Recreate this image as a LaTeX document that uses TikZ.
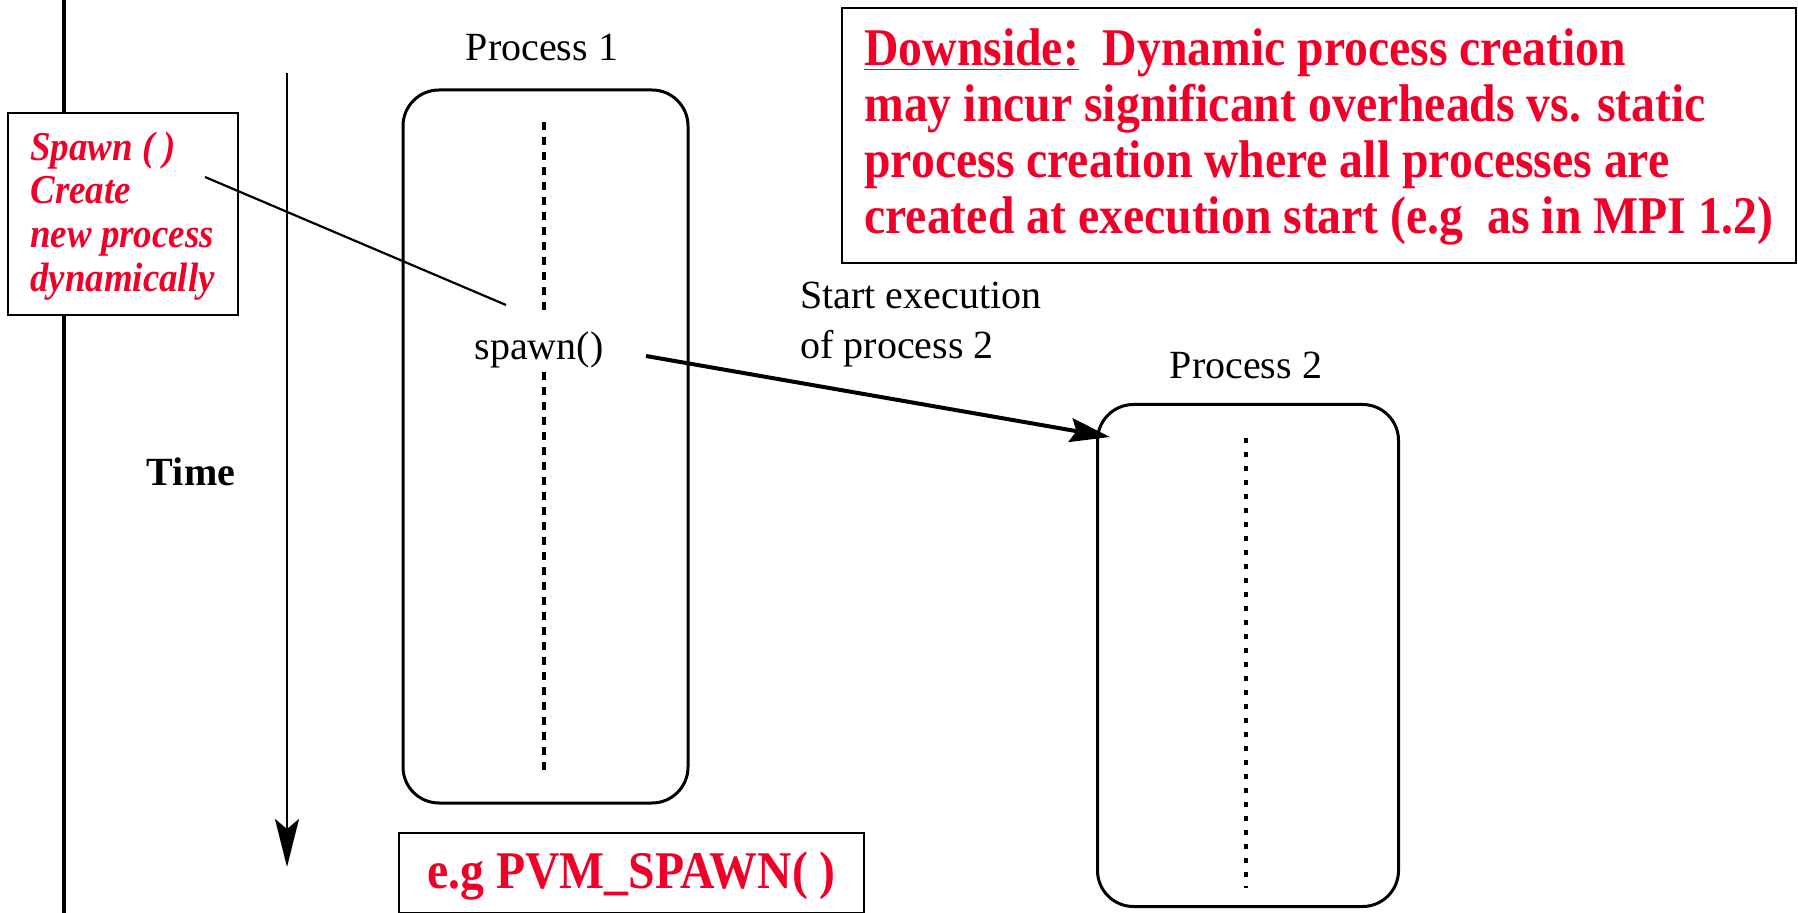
\documentclass[tikz,border=0pt]{standalone}
\usepackage{fontspec}
\setmainfont{Liberation Serif}
\newfontfamily\condser[FakeStretch=0.9]{Liberation Serif}
\usetikzlibrary{arrows.meta}
\definecolor{hred}{RGB}{240,0,40}
\begin{document}
\begin{tikzpicture}[x=0.5pt,y=-0.5pt,
  procbox/.style={draw, line width=1.5pt, rounded corners=18pt, inner sep=0pt},
  lbl/.style={font=\fontsize{20}{25}\selectfont, inner sep=0pt},
  redframe/.style={draw, line width=1.2pt, fill=white, inner sep=0pt},
  redtxt/.style={text=hred, inner sep=0pt, align=left},
  dotsA/.style={line width=1.8pt, dash pattern=on 4pt off 3.5pt},
  dotsB/.style={line width=2pt, dash pattern=on 2.5pt off 4.5pt},
]
\useasboundingbox (0,0) rectangle (1798,913);
\clip (0,0) rectangle (1798,913);

% left thick border line
\coordinate (ltop) at (64,0);
\coordinate (lbot) at (64,913);
\draw[line width=2.4pt] (ltop) -- (lbot);

% time arrow
\coordinate (ttop) at (287,73);
\coordinate (tbot) at (287,867);
\draw[line width=1.3pt, -{Stealth[length=24pt,width=12pt,inset=5pt]}] (ttop) -- (tbot);
\node[lbl, font=\bfseries\fontsize{20}{25}\selectfont] (time) at (191,472) {Time};

% Process 1
\node[lbl] (p1t) at (542,48) {Process 1};
\node[procbox, minimum width=142.5pt, minimum height=356.5pt] (p1) at (545.5,446.5) {};
\coordinate (d1a) at (544,122);
\coordinate (d1b) at (544,310);
\coordinate (d1c) at (544,372);
\coordinate (d1d) at (544,773);
\draw[dotsA] (d1a) -- (d1b);
\draw[dotsA] (d1c) -- (d1d);
\node[lbl] (spw) at (539,350) {spawn()};

% Process 2
\node[lbl] (p2t) at (1246,365) {Process 2};
\node[procbox, minimum width=150.5pt, minimum height=251pt] (p2) at (1248,655.5) {};
\coordinate (d2a) at (1246,438);
\coordinate (d2b) at (1246,888);
\draw[dotsB] (d2a) -- (d2b);

% start execution label and arrow
\node[lbl, anchor=west, align=left] (se) at (800,325) {Start execution\\of process 2};
\coordinate (as) at (646,356);
\coordinate (ae) at (1110,437);
\draw[line width=2pt, -{Stealth[length=20pt,width=12pt,inset=3pt]}] (as) -- (ae);

% spawn callout box
\node[redframe, minimum width=115pt, minimum height=101pt] (spbox) at (123,214) {};
\node[redtxt, anchor=west, font=\condser\bfseries\itshape\fontsize{20.5}{21.8}\selectfont] (sptxt) at (30,216) {Spawn ( )\\Create\\new process\\dynamically};
\coordinate (l1) at (205,177);
\coordinate (l2) at (506,305);
\draw[line width=1.1pt] (l1) -- (l2);

% downside box
\node[redframe, minimum width=477pt, minimum height=127.5pt] (down) at (1319,135.5) {};
\node[redtxt, anchor=west, font=\condser\bfseries\fontsize{26.5}{28}\selectfont] (dtxt) at (864,137) {\underline{Downside:}\ \ Dynamic process creation\\may incur significant overheads vs. static\\process creation where all processes are\\created at execution start (e.g\ \ as in MPI 1.2)};

% PVM box
\node[redframe, minimum width=232.5pt, minimum height=40pt] (pvm) at (631.5,873) {};
\node[redtxt, font=\condser\bfseries\fontsize{26.5}{28}\selectfont] (pvmt) at (631.5,876) {e.g PVM\_SPAWN( )};
\end{tikzpicture}
\end{document}
